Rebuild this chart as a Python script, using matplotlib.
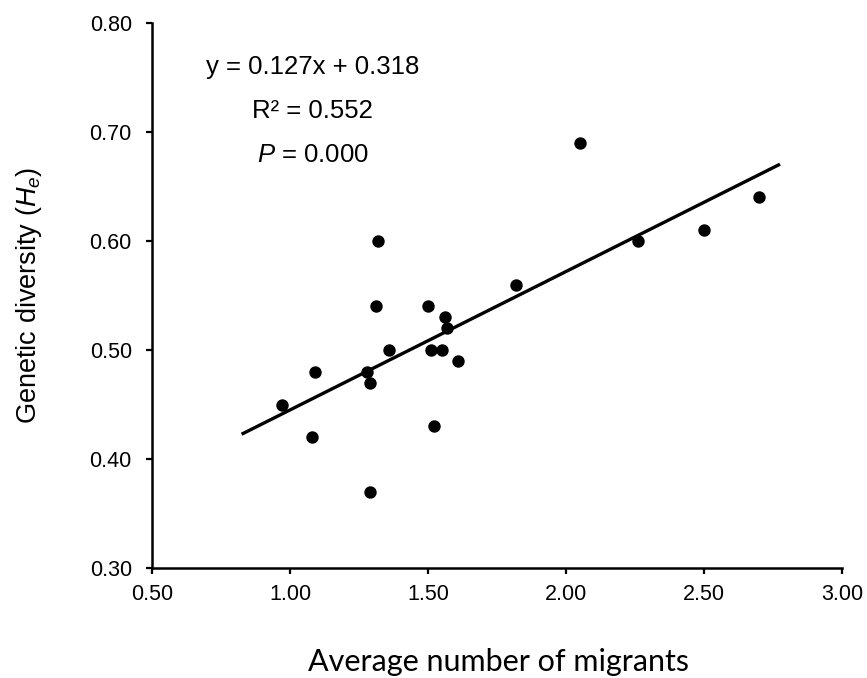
import matplotlib.pyplot as plt

plt.rcParams['font.family'] = ['Liberation Sans', 'DejaVu Sans']
plt.rcParams['mathtext.fontset'] = 'custom'
plt.rcParams['mathtext.rm'] = 'Liberation Sans'
plt.rcParams['mathtext.it'] = 'Liberation Sans:italic'

# migrants vs genetic diversity
migrants = [0.97, 1.09, 1.08, 1.28, 1.29, 1.29, 1.31, 1.32, 1.36, 1.50, 1.51, 1.52,
            1.55, 1.56, 1.57, 1.61, 1.82, 2.05, 2.26, 2.50, 2.70]
diversity = [0.45, 0.48, 0.42, 0.48, 0.47, 0.37, 0.54, 0.60, 0.50, 0.54, 0.50, 0.43,
             0.50, 0.53, 0.52, 0.49, 0.56, 0.69, 0.60, 0.61, 0.64]

slope = 0.127
intercept = 0.318
trend_x = [0.83, 2.77]
eq_lines = ['y = 0.127x + 0.318', 'R² = 0.552', '$P$ = 0.000']

x_ticks = [0.5, 1.0, 1.5, 2.0, 2.5, 3.0]
y_ticks = [0.3, 0.4, 0.5, 0.6, 0.7, 0.8]

fig = plt.figure(figsize=(8.67, 6.78), dpi=100)
ax = fig.add_axes([152 / 867, 1 - 568 / 678, 690 / 867, 545 / 678])

ax.scatter(migrants, diversity, s=80, color='black', zorder=3, linewidths=0)
trend_y = [slope * x + intercept for x in trend_x]
ax.plot(trend_x, trend_y, color='black', linewidth=2.4, zorder=2)

ax.set_xlim(0.5, 3.0)
ax.set_ylim(0.3, 0.8)
ax.set_xticks(x_ticks)
ax.set_yticks(y_ticks)
ax.set_xticklabels(['%.2f' % t for t in x_ticks])
ax.set_yticklabels(['%.2f' % t for t in y_ticks])
ax.tick_params(labelsize=15.5, width=1.6, length=4.5, direction='out', color='black')
ax.tick_params(axis='x', pad=7)
ax.tick_params(axis='y', pad=10)
for side in ['top', 'right']:
    ax.spines[side].set_visible(False)
for side in ['left', 'bottom']:
    ax.spines[side].set_linewidth(1.8)

ys = [0.760, 0.719, 0.679]
for txt, yy in zip(eq_lines, ys):
    ax.text(1.083, yy, txt, fontsize=18.5, ha='center', va='center')

fig.text(0.575, 7 / 678, 'Average number of migrants', fontsize=22,
         ha='center', va='baseline', family=['Lato', 'DejaVu Sans'])
fig.text(0.034, 0.565, 'Genetic diversity ($H_e$)', fontsize=19.5, rotation=90,
         ha='center', va='center')

fig.savefig('out.png', dpi=100)
